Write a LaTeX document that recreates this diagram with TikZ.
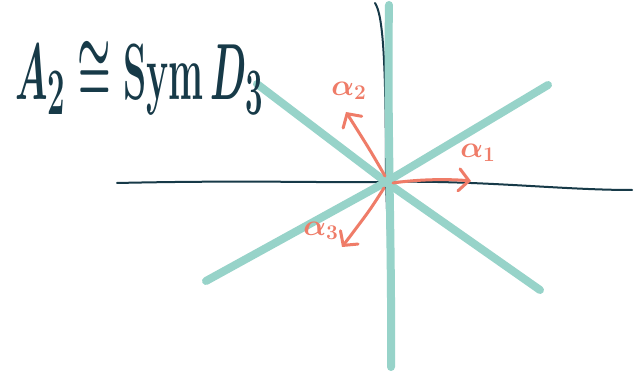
\documentclass[tikz,border=0pt]{standalone}
\usepackage{tikz}
\usetikzlibrary{arrows.meta}
\usepackage{amsmath}
\usepackage{graphicx}

\definecolor{inkdark}{HTML}{173A48}
\definecolor{mirrorteal}{HTML}{97D3C9}
\definecolor{rootred}{HTML}{EF7C68}

\newcommand{\rootname}[1]{\scalebox{1.45}{\huge\boldmath$\alpha_{#1}$}}

\begin{document}
\begin{tikzpicture}[x=1pt, y=-1pt,
    axis/.style={inkdark, line width=2pt, line cap=round},
    mirror/.style={mirrorteal, line width=8pt, line cap=round},
    root/.style={rootred, line width=3pt, line cap=round,
        -{Straight Barb[length=10pt, width=22pt, line cap=round]}},
    rootlabel/.style={rootred, inner sep=1pt}]

    \useasboundingbox (0,0) rectangle (641,374);
    \fill[white] (0,0) rectangle (641,374);

    % Origin and end points
    \coordinate (O) at (386,182);
    \coordinate (xl) at (117,183);
    \coordinate (xr) at (632,190);
    \coordinate (yt) at (375,3);
    \coordinate (yb) at (390,290);

    % Axes
    \draw[axis] (xl) .. controls (250,180) and (330,183) .. (O)
        .. controls (480,180) and (560,190) .. (xr);
    \draw[axis] (yt) .. controls (383,15) and (386,60) .. (O) -- (yb);

    % Mirror lines
    \coordinate (m1a) at (389,5);
    \coordinate (m1b) at (391,367);
    \coordinate (m2a) at (257,84);
    \coordinate (m2b) at (540,290);
    \coordinate (m3a) at (548,85);
    \coordinate (m3b) at (206,281);
    \draw[mirror] (m1a) .. controls (387,120) and (392,250) .. (m1b);
    \draw[mirror] (m2a) -- (O) -- (m2b);
    \draw[mirror] (m3a) -- (O) -- (m3b);

    % Roots
    \coordinate (r1) at (471,181);
    \coordinate (r2) at (346,112);
    \coordinate (r3) at (342,247);
    \draw[root] (393,183) .. controls (420,179) and (450,179) .. (r1);
    \draw[root] (385,176) .. controls (370,150) .. (r2);
    \draw[root] (384,188) .. controls (370,210) .. (r3);

    \node[rootlabel] (l1) at (478,153) {\rootname{1}};
    \node[rootlabel] (l2) at (349,91) {\rootname{2}};
    \node[rootlabel] (l3) at (321,231) {\rootname{3}};

    % Title
    \node[inkdark, anchor=base west, inner sep=0pt] (title) at (15,100)
        {\scalebox{1.5}[3.2]{\fontsize{24.88}{30}\selectfont\boldmath$A_2\cong\mathrm{Sym}\,D_3$}};

\end{tikzpicture}
\end{document}
